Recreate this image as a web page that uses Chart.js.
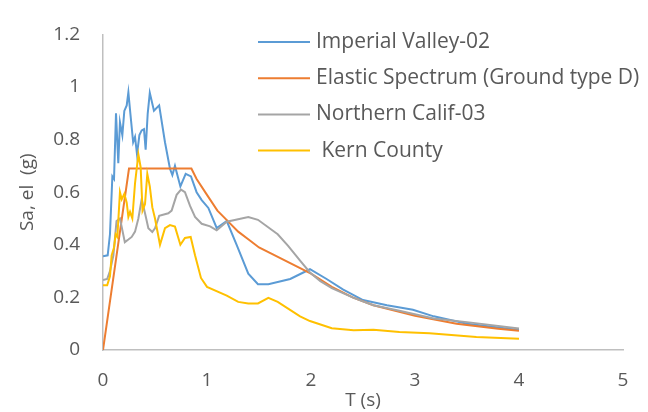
<!DOCTYPE html>
<html>
<head>
<meta charset="utf-8">
<script src="https://cdn.jsdelivr.net/npm/chart.js@4.4.1/dist/chart.umd.min.js"></script>
<style>
  html, body { margin: 0; padding: 0; background: #fff; }
  #wrap { width: 648px; height: 412px; }
</style>
</head>
<body>
<div id="wrap"><canvas id="spectra" width="648" height="412"></canvas></div>
<script>
// Imperial Valley-02
const imperialT  = [0, 0.045, 0.067, 0.09, 0.106, 0.125, 0.147, 0.163, 0.186, 0.205, 0.228, 0.244, 0.263, 0.29, 0.308, 0.327, 0.35, 0.372, 0.394, 0.41, 0.43, 0.45, 0.49, 0.54, 0.596, 0.644, 0.667, 0.692, 0.744, 0.795, 0.846, 0.9, 0.949, 1.013, 1.093, 1.19, 1.285, 1.397, 1.49, 1.59, 1.8, 1.99, 2.15, 2.31, 2.5, 2.73, 2.98, 3.18, 3.5, 4.0];
const imperialSa = [0.356, 0.36, 0.44, 0.66, 0.65, 0.9, 0.71, 0.866, 0.817, 0.909, 0.93, 0.98, 0.9, 0.79, 0.81, 0.744, 0.817, 0.835, 0.84, 0.762, 0.9, 0.978, 0.91, 0.93, 0.79, 0.689, 0.665, 0.7, 0.622, 0.67, 0.66, 0.6, 0.57, 0.54, 0.464, 0.49, 0.4, 0.29, 0.25, 0.25, 0.27, 0.307, 0.27, 0.23, 0.19, 0.17, 0.153, 0.128, 0.1, 0.076];

// Elastic Spectrum (Ground type D)
const elasticT  = [0, 0.25, 0.85, 0.9, 1.0, 1.1, 1.2, 1.3, 1.4, 1.5, 1.6, 1.8, 2.0, 2.2, 2.4, 2.6, 2.8, 3.0, 3.2, 3.4, 3.6, 3.8, 4.0];
const elasticSa = [0, 0.69, 0.69, 0.65, 0.59, 0.53, 0.49, 0.45, 0.42, 0.39, 0.37, 0.33, 0.29, 0.24, 0.2, 0.17, 0.15, 0.13, 0.115, 0.1, 0.09, 0.081, 0.073];

// Northern Calif-03
const northernT  = [0, 0.04, 0.067, 0.1, 0.13, 0.163, 0.21, 0.244, 0.276, 0.308, 0.34, 0.372, 0.404, 0.436, 0.474, 0.5, 0.54, 0.628, 0.66, 0.708, 0.75, 0.788, 0.837, 0.885, 0.949, 1.03, 1.093, 1.19, 1.397, 1.49, 1.68, 1.78, 1.895, 1.99, 2.09, 2.2, 2.41, 2.6, 2.85, 3.18, 3.5, 4.0];
const northernSa = [0.266, 0.27, 0.3, 0.36, 0.49, 0.5, 0.41, 0.42, 0.43, 0.45, 0.5, 0.573, 0.52, 0.463, 0.449, 0.463, 0.51, 0.52, 0.53, 0.59, 0.61, 0.6, 0.548, 0.506, 0.48, 0.47, 0.455, 0.488, 0.506, 0.495, 0.44, 0.396, 0.34, 0.295, 0.262, 0.235, 0.198, 0.17, 0.149, 0.12, 0.106, 0.082];

// Kern County
const kernT  = [0, 0.04, 0.067, 0.083, 0.106, 0.122, 0.138, 0.163, 0.18, 0.205, 0.228, 0.244, 0.26, 0.282, 0.308, 0.34, 0.362, 0.38, 0.404, 0.426, 0.45, 0.474, 0.5, 0.548, 0.596, 0.644, 0.692, 0.744, 0.788, 0.843, 0.885, 0.942, 1.0, 1.19, 1.3, 1.397, 1.49, 1.59, 1.68, 1.895, 1.99, 2.2, 2.41, 2.6, 2.85, 3.14, 3.59, 4.0];
const kernSa = [0.246, 0.246, 0.28, 0.36, 0.39, 0.44, 0.43, 0.6, 0.573, 0.594, 0.56, 0.506, 0.525, 0.5, 0.634, 0.744, 0.695, 0.53, 0.555, 0.67, 0.622, 0.543, 0.5, 0.4, 0.463, 0.475, 0.469, 0.4, 0.426, 0.43, 0.36, 0.274, 0.24, 0.207, 0.183, 0.177, 0.177, 0.198, 0.183, 0.128, 0.11, 0.083, 0.075, 0.077, 0.068, 0.064, 0.049, 0.043];

const seriesNames = ['Imperial Valley-02', 'Elastic Spectrum (Ground type D)', 'Northern Calif-03', ' Kern County'];
const seriesColors = ['#5B9BD5', '#ED7D31', '#A5A5A5', '#FFC000'];

const xTicks = [0, 1, 2, 3, 4, 5];
const yTicks = [0, 0.2, 0.4, 0.6, 0.8, 1, 1.2];

const FONT = "'Open Sans', 'DejaVu Sans', sans-serif";
const TEXT = '#595959';

function toPoints(ts, vals) {
  return ts.map((t, i) => ({ x: t, y: vals[i] }));
}

const allSeries = [
  toPoints(imperialT, imperialSa),
  toPoints(elasticT, elasticSa),
  toPoints(northernT, northernSa),
  toPoints(kernT, kernSa)
];

// legend drawn inside the plot, one row per series
const insideLegend = {
  id: 'insideLegend',
  afterDraw(chart) {
    const ctx = chart.ctx;
    ctx.save();
    ctx.font = '21px ' + FONT;
    ctx.textBaseline = 'middle';
    ctx.textAlign = 'left';
    chart.data.datasets.forEach((ds, i) => {
      const y = 42 + i * 36.2;
      ctx.strokeStyle = ds.borderColor;
      ctx.lineWidth = 2;
      ctx.beginPath();
      ctx.moveTo(258, y);
      ctx.lineTo(310, y);
      ctx.stroke();
      ctx.fillStyle = TEXT;
      ctx.fillText(ds.label, 316, y);
    });
    ctx.restore();
  }
};

new Chart(document.getElementById('spectra'), {
  type: 'scatter',
  data: {
    datasets: allSeries.map((pts, i) => ({
      label: seriesNames[i],
      data: pts,
      showLine: true,
      borderColor: seriesColors[i],
      backgroundColor: seriesColors[i],
      borderWidth: 2,
      pointRadius: 0,
      tension: 0,
      order: 4 - i
    }))
  },
  options: {
    responsive: false,
    animation: false,
    layout: { padding: { top: 22, right: 25, bottom: 0, left: 0 } },
    plugins: {
      legend: { display: false },
      tooltip: { enabled: false }
    },
    scales: {
      x: {
        type: 'linear',
        min: 0,
        max: 5,
        afterBuildTicks: s => { s.ticks = xTicks.map(v => ({ value: v })); },
        afterFit: s => { s.height = 62; },
        grid: { display: false, drawTicks: false },
        border: { display: true, color: '#BFBFBF', width: 1.5 },
        ticks: { color: TEXT, font: { family: FONT, size: 19 }, padding: 19, maxRotation: 0 },
        title: { display: true, text: 'T (s)', color: TEXT, font: { family: FONT, size: 19 }, padding: 0 }
      },
      y: {
        type: 'linear',
        min: 0,
        max: 1.2,
        afterBuildTicks: s => { s.ticks = yTicks.map(v => ({ value: v })); },
        afterFit: s => { s.width = 103; },
        grid: { display: false, drawTicks: false },
        border: { display: true, color: '#BFBFBF', width: 1.5 },
        ticks: {
          color: TEXT,
          font: { family: FONT, size: 19 },
          padding: 23,
          callback: v => String(+v.toFixed(1))
        },
        title: { display: true, text: 'Sa, el  (g)', color: TEXT, font: { family: FONT, size: 19 }, padding: { top: 16, bottom: 0 } }
      }
    }
  },
  plugins: [insideLegend]
});
</script>
</body>
</html>
